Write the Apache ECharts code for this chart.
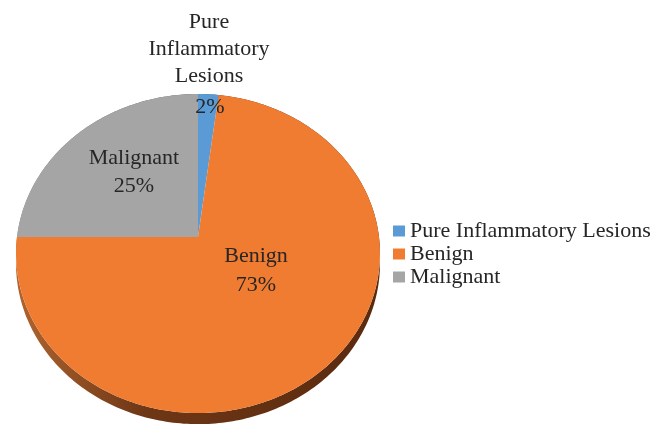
<!DOCTYPE html>
<html>
<head>
<meta charset="utf-8">
<script src="https://cdn.jsdelivr.net/npm/echarts@6/dist/echarts.min.js"></script>
<style>
  html, body { margin: 0; padding: 0; background: #fff; }
  #chart { width: 654px; height: 424px; }
</style>
</head>
<body>
<div id="chart"></div>
<script>
// data
const categories = ['Pure Inflammatory Lesions', 'Benign', 'Malignant'];
const labelNames = ['Pure\nInflammatory\nLesions', 'Benign', 'Malignant'];
const values = [2, 73, 25];

// look
const colors = ['#5b9bd5', '#ef7c31', '#a5a5a5'];
const wallStops = [
  ['#4f86b8', '#2f5373', '#24415c'],
  ['#b0642e', '#6e3716', '#5a2a0f'],
  ['#8a8a8a', '#5e5e5e', '#4a4a4a']
];
// label anchors: [nameX, nameY, pctX, pctY]
const labelLayout = [
  [209, 49, 210, 107],
  [256, 256, 256, 285],
  [134, 158, 134, 186]
];
const FONT = '"Liberation Serif", "Times New Roman", serif';

// tilted pie with a bit of perspective (Excel 3D look)
const PIE = { cx: 198, cy: 237, rx: 181, ry: 157.8, k: 0.1035, depth: 10 };

function project(theta, f) {
  const u = Math.sin(theta) * f;
  const v = -Math.cos(theta) * f;
  const w = 1 - PIE.k * v;
  return [PIE.cx + PIE.rx * u / w, PIE.cy + PIE.ry * v / w];
}

const total = values.reduce((a, b) => a + b, 0);

function sliceAngles(i) {
  let acc = 0;
  for (let j = 0; j < i; j++) acc += values[j];
  const a0 = acc / total * Math.PI * 2;
  const a1 = (acc + values[i]) / total * Math.PI * 2;
  return [a0, a1];
}

function arcPoints(a0, a1) {
  const n = Math.max(2, Math.ceil((a1 - a0) / (Math.PI / 180)));
  const pts = [];
  for (let s = 0; s <= n; s++) {
    pts.push(project(a0 + (a1 - a0) * s / n, 1));
  }
  return pts;
}

function renderWall(params) {
  const i = params.dataIndex;
  const [a0, a1] = sliceAngles(i);
  const top = arcPoints(a0, a1);
  const bottom = top.map(p => {
    const v = (p[1] - PIE.cy) / PIE.ry;
    return [p[0], p[1] + PIE.depth * (1 + 0.1 * v)];
  }).reverse();
  const st = wallStops[i];
  return {
    type: 'polygon',
    shape: { points: top.concat(bottom) },
    style: {
      fill: new echarts.graphic.LinearGradient(PIE.cx - PIE.rx, 0, PIE.cx + PIE.rx, 0, [
        { offset: 0, color: st[0] },
        { offset: 0.35, color: st[1] },
        { offset: 1, color: st[2] }
      ], true)
    }
  };
}

function makeFace(i) {
  return function () {
    const [a0, a1] = sliceAngles(i);
    const pts = [[PIE.cx, PIE.cy]].concat(arcPoints(a0, a1));
    const pos = labelLayout[i];
    const pct = Math.round(values[i] / total * 100) + '%';
    const txt = (t, x, y) => ({
      type: 'text',
      x: x, y: y,
      z2: 10,
      style: {
        text: t,
        fill: '#262626',
        fontFamily: FONT,
        fontSize: 22,
        lineHeight: 27,
        align: 'center', textAlign: 'center',
        verticalAlign: 'middle', textVerticalAlign: 'middle'
      }
    });
    return {
      type: 'group',
      children: [
        { type: 'polygon', shape: { points: pts }, style: { fill: colors[i] } },
        txt(labelNames[i], pos[0], pos[1]),
        txt(pct, pos[2], pos[3])
      ]
    };
  };
}

const chart = echarts.init(document.getElementById('chart'), null, { renderer: 'canvas' });

const series = [{
  type: 'custom',
  name: 'wall',
  coordinateSystem: 'none',
  silent: true,
  z: 1,
  data: values,
  renderItem: renderWall
}];
categories.forEach((c, i) => {
  series.push({
    type: 'custom',
    name: c,
    coordinateSystem: 'none',
    silent: true,
    z: 2,
    itemStyle: { color: colors[i] },
    data: [values[i]],
    renderItem: makeFace(i)
  });
});

chart.setOption({
  animation: false,
  color: colors,
  legend: {
    data: categories,
    orient: 'vertical',
    left: 393,
    top: 220,
    padding: 0,
    icon: 'rect',
    itemWidth: 12,
    itemHeight: 11,
    itemGap: 1,
    selectedMode: false,
    textStyle: {
      fontFamily: FONT,
      fontSize: 22,
      lineHeight: 22,
      color: '#262626'
    }
  },
  series: series
});
</script>
</body>
</html>
